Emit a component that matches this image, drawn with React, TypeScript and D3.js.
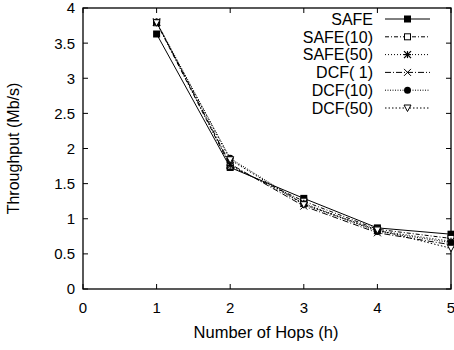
import React from "react";
import * as d3 from "d3";

const hops = [1, 2, 3, 4, 5];
const safe = [3.63, 1.73, 1.29, 0.87, 0.78];
const safe10 = [3.79, 1.75, 1.25, 0.85, 0.72];
const safe50 = [3.8, 1.76, 1.22, 0.83, 0.68];
const dcf1 = [3.8, 1.78, 1.18, 0.8, 0.63];
const dcf10 = [3.8, 1.86, 1.21, 0.82, 0.66];
const dcf50 = [3.79, 1.84, 1.2, 0.84, 0.58];
const seriesNames = ["SAFE", "SAFE(10)", "SAFE(50)", "DCF( 1)", "DCF(10)", "DCF(50)"];
const xTicks = [0, 1, 2, 3, 4, 5];
const yTicks = [0, 0.5, 1, 1.5, 2, 2.5, 3, 3.5, 4];

const W = 454;
const H = 350;
const L = 83, R = 451, T = 8, B = 289;
const FONT = "'Liberation Sans', Arial, sans-serif";

const x = d3.scaleLinear().domain([0, 5]).range([L, R]);
const y = d3.scaleLinear().domain([0, 4]).range([B, T]);

type Kind = "fsquare" | "osquare" | "star" | "cross" | "fcircle" | "otri";
const series: { name: string; values: number[]; dash: string; kind: Kind }[] = [
  { name: seriesNames[0], values: safe, dash: "", kind: "fsquare" },
  { name: seriesNames[1], values: safe10, dash: "4,2,1,2", kind: "osquare" },
  { name: seriesNames[2], values: safe50, dash: "1,2", kind: "star" },
  { name: seriesNames[3], values: dcf1, dash: "6,2,1,2", kind: "cross" },
  { name: seriesNames[4], values: dcf10, dash: "1,1.5", kind: "fcircle" },
  { name: seriesNames[5], values: dcf50, dash: "1.5,2", kind: "otri" },
];

function Marker({ kind, cx, cy }: { kind: Kind; cx: number; cy: number }) {
  const s = 3.5;
  switch (kind) {
    case "fsquare":
      return <rect x={cx - s} y={cy - s} width={2 * s} height={2 * s} fill="#000" />;
    case "osquare":
      return <rect x={cx - s + 0.5} y={cy - s + 0.5} width={2 * s - 1} height={2 * s - 1} fill="#fff" stroke="#000" strokeWidth={1} />;
    case "star":
      return (
        <g stroke="#000" strokeWidth={1.2}>
          <line x1={cx - s} y1={cy} x2={cx + s} y2={cy} />
          <line x1={cx} y1={cy - s} x2={cx} y2={cy + s} />
          <line x1={cx - s} y1={cy - s} x2={cx + s} y2={cy + s} />
          <line x1={cx - s} y1={cy + s} x2={cx + s} y2={cy - s} />
        </g>
      );
    case "cross":
      return (
        <g stroke="#000" strokeWidth={1}>
          <line x1={cx - s} y1={cy - s} x2={cx + s} y2={cy + s} />
          <line x1={cx - s} y1={cy + s} x2={cx + s} y2={cy - s} />
        </g>
      );
    case "fcircle":
      return <circle cx={cx} cy={cy} r={s} fill="#000" />;
    case "otri":
      return (
        <path
          d={`M${cx - s},${cy - s + 0.5}L${cx + s},${cy - s + 0.5}L${cx},${cy + s}Z`}
          fill="#fff"
          stroke="#000"
          strokeWidth={1}
        />
      );
  }
}

export default function App() {
  const line = d3
    .line<number>()
    .x((_, i) => x(hops[i]))
    .y((v) => y(v));

  const legendTextX = 373;
  const legendX1 = 385;
  const legendX2 = 430;
  const legendY0 = 19;
  const legendDy = 17.8;

  return (
    <svg
      width={W}
      height={H}
      style={{ position: "absolute", left: 0, top: 0, background: "#fff" }}
      fontFamily={FONT}
    >
      <rect width={W} height={H} fill="#fff" />
      {/* y ticks, mirrored on the right */}
      {yTicks.map((t) => (
        <g key={"y" + t}>
          <line x1={L} x2={L + 5} y1={y(t)} y2={y(t)} stroke="#000" />
          <line x1={R} x2={R - 5} y1={y(t)} y2={y(t)} stroke="#000" />
          <text x={L - 8} y={y(t)} dy="0.36em" textAnchor="end" fontSize={15}>
            {String(t)}
          </text>
        </g>
      ))}
      {/* x ticks, mirrored on top */}
      {xTicks.map((t) => (
        <g key={"x" + t}>
          <line x1={x(t)} x2={x(t)} y1={B} y2={B - 5} stroke="#000" />
          <line x1={x(t)} x2={x(t)} y1={T} y2={T + 5} stroke="#000" />
          <text x={x(t)} y={B + 24} textAnchor="middle" fontSize={15}>
            {String(t)}
          </text>
        </g>
      ))}
      <rect x={L} y={T} width={R - L} height={B - T} fill="none" stroke="#000" strokeWidth={1.3} />

      {series.map((s) => (
        <g key={s.name}>
          <path d={line(s.values) || ""} fill="none" stroke="#000" strokeWidth={1} strokeDasharray={s.dash || undefined} />
          {s.values.map((v, i) => (
            <Marker key={i} kind={s.kind} cx={x(hops[i])} cy={y(v)} />
          ))}
        </g>
      ))}

      {/* legend */}
      {series.map((s, i) => {
        const ly = legendY0 + i * legendDy;
        return (
          <g key={"lg" + s.name}>
            <text x={legendTextX} y={ly} dy="0.36em" textAnchor="end" fontSize={16} style={{ whiteSpace: "pre" }}>
              {s.name}
            </text>
            <line x1={legendX1} x2={legendX2} y1={ly} y2={ly} stroke="#000" strokeDasharray={s.dash || undefined} />
            <Marker kind={s.kind} cx={(legendX1 + legendX2) / 2} cy={ly} />
          </g>
        );
      })}

      <text x={(L + R) / 2 - 1} y={338} textAnchor="middle" fontSize={16.5}>
        Number of Hops (h)
      </text>
      <text transform={`translate(19,${(T + B) / 2}) rotate(-90)`} textAnchor="middle" fontSize={16}>
        Throughput (Mb/s)
      </text>
    </svg>
  );
}
